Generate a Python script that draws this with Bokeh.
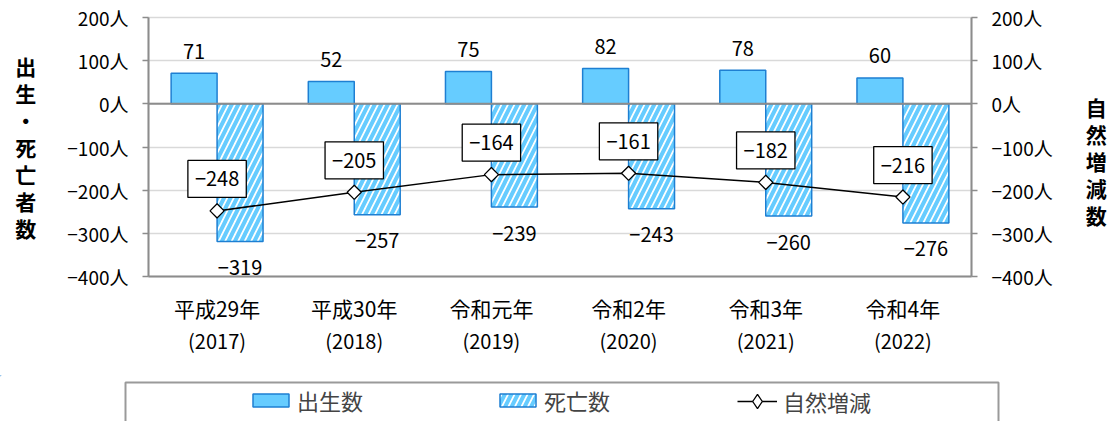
from bokeh.plotting import figure
from bokeh.models import (Range1d, LinearAxis, FixedTicker, ColumnDataSource, Label,
                          Span, Legend, LegendItem)
from bokeh.embed import file_html
from bokeh.resources import INLINE
from bokeh.transform import dodge

# ---------------- data ----------------
era_labels = ["平成29年", "平成30年", "令和元年", "令和2年", "令和3年", "令和4年"]
year_labels = ["(2017)", "(2018)", "(2019)", "(2020)", "(2021)", "(2022)"]
births = [71, 52, 75, 82, 78, 60]
deaths = [-319, -257, -239, -243, -260, -276]
natural = [-248, -205, -164, -161, -182, -216]
y_ticks = [-400, -300, -200, -100, 0, 100, 200]
left_title = "出生・死亡者数"
right_title = "自然増減数"
legend_labels = ["出生数", "死亡数", "自然増減"]

FONT = "Noto Sans CJK JP"
BAR_FILL = "#66CCFF"
BAR_LINE = "#1E7FD2"
AXIS_GRAY = "#8c8c8c"
GRID_GRAY = "#d9d9d9"


def fmt(v):
    return str(v).replace("-", "−")


xs = [i + 0.5 for i in range(len(era_labels))]
src = ColumnDataSource(dict(x=xs, births=births, deaths=deaths, natural=natural))

W = 1109
H_MAIN = 375
H_LEG = 46

p = figure(width=W, height=H_MAIN, output_backend="svg", toolbar_location=None,
           x_range=Range1d(0, len(era_labels)), y_range=Range1d(-400, 200),
           min_border_left=148, min_border_right=136, min_border_top=17,
           min_border_bottom=H_MAIN - 276, tools="")
p.outline_line_color = GRID_GRAY
p.outline_line_width = 1.5
p.background_fill_color = "white"
p.border_fill_color = "white"

# grid
p.xgrid.visible = False
p.ygrid.ticker = FixedTicker(ticks=y_ticks)
p.ygrid.grid_line_color = GRID_GRAY
p.ygrid.grid_line_width = 1.5

# y axes
overrides = {t: fmt(t) + "人" for t in y_ticks}


def style_yaxis(ax):
    ax.ticker = FixedTicker(ticks=y_ticks)
    ax.major_label_overrides = overrides
    ax.major_label_text_font = FONT
    ax.major_label_text_font_size = "19px"
    ax.major_label_text_color = "black"
    ax.major_label_standoff = 14
    ax.major_tick_in = 0
    ax.major_tick_out = 6
    ax.major_tick_line_color = AXIS_GRAY
    ax.major_tick_line_width = 1.5
    ax.minor_tick_line_color = None
    ax.axis_line_color = AXIS_GRAY
    ax.axis_line_width = 2
    ax.axis_label_text_font = FONT
    ax.axis_label_text_font_size = "21px"
    ax.axis_label_text_font_style = "bold"
    ax.axis_label_text_color = "black"
    ax.axis_label_orientation = "horizontal"
    ax.axis_label_text_line_height = 0.9


left_axis = p.yaxis[0]
style_yaxis(left_axis)
left_axis.axis_label = "\n".join(left_title)
left_axis.axis_label_standoff = 28

right_axis = LinearAxis()
style_yaxis(right_axis)
right_axis.axis_label = " \n" + "\n".join(right_title)
right_axis.axis_label_standoff = 30
p.add_layout(right_axis, "right")

# x axes: era row and year row
xa = p.xaxis[0]
xa.ticker = FixedTicker(ticks=xs)
xa.major_label_overrides = {x: e for x, e in zip(xs, era_labels)}
xa.major_tick_line_color = None
xa.major_tick_out = 0
xa.minor_tick_line_color = None
xa.axis_line_color = AXIS_GRAY
xa.axis_line_width = 2
xa.major_label_text_font = FONT
xa.major_label_text_font_size = "21px"
xa.major_label_text_color = "black"
xa.major_label_standoff = 16

xa2 = LinearAxis(ticker=FixedTicker(ticks=xs),
                 major_label_overrides={x: y for x, y in zip(xs, year_labels)})
xa2.major_tick_line_color = None
xa2.major_tick_out = 0
xa2.minor_tick_line_color = None
xa2.axis_line_color = None
xa2.major_label_text_font = FONT
xa2.major_label_text_font_size = "20px"
xa2.major_label_text_color = "black"
xa2.major_label_standoff = 0
p.add_layout(xa2, "below")

# bars
bw = 0.335
bar_kw = dict(line_color=BAR_LINE, line_width=1.5)
r_b = p.vbar(x=dodge("x", -bw / 2), top="births", bottom=0, width=bw, source=src,
             fill_color=BAR_FILL, **bar_kw)
hatch_kw = dict(fill_color="white", hatch_pattern="/", hatch_color=BAR_FILL,
                hatch_scale=13, hatch_weight=4)
r_d = p.vbar(x=dodge("x", bw / 2), top=0, bottom="deaths", width=bw, source=src,
             **hatch_kw, **bar_kw)

p.add_layout(Span(location=0, dimension="width", line_color=AXIS_GRAY, line_width=2))

# natural change line
line_kw = dict(line_color="black", line_width=1.5)
marker_kw = dict(size=10, fill_color="white", line_color="black", line_width=1.3)
p.line(x="x", y="natural", source=src, **line_kw)
p.scatter(x="x", y="natural", source=src, marker="square", angle=0.785398, **marker_kw)

# data labels
for x, b, d, n in zip(xs, births, deaths, natural):
    p.add_layout(Label(x=x - bw / 2, y=b, text=fmt(b), y_offset=22, text_align="center",
                       text_baseline="middle", text_font=FONT, text_font_size="20px",
                       text_color="black"))
    p.add_layout(Label(x=x + bw / 2, y=d, text=fmt(d), y_offset=-26, text_align="center",
                       text_baseline="middle", text_font=FONT, text_font_size="20px",
                       text_color="black"))
    p.add_layout(Label(x=x, y=n, text=fmt(n), y_offset=32, text_align="center",
                       text_baseline="middle", text_font=FONT, text_font_size="20px",
                       text_color="black", background_fill_color="white",
                       border_line_color="black", border_line_width=1.3,
                       padding=dict(top=11, bottom=11, left=7, right=7)))

# ---------------- legend strip (separate root, page-pixel data space) ----------------
lf = figure(width=W, height=H_LEG, output_backend="svg", toolbar_location=None,
            x_range=Range1d(0, W), y_range=Range1d(H_MAIN + H_LEG, H_MAIN),
            x_axis_type=None, y_axis_type=None, tools="",
            min_border_left=0, min_border_right=0, min_border_top=0, min_border_bottom=0)
lf.outline_line_color = None
lf.xgrid.visible = False
lf.ygrid.visible = False
lf.background_fill_color = "white"
lf.border_fill_color = "white"

# legend frame lines
lf.line(x=[125, 125, 998, 998], y=[H_MAIN + H_LEG + 10, 382, 382, H_MAIN + H_LEG + 10],
        line_color="#9a9a9a", line_width=2)

# dummy renderers for the legend glyphs (drawn off-range)
dsrc = ColumnDataSource(dict(x=[-100], t=[-100], b=[-101]))
lb = lf.vbar(x="x", top="t", bottom="b", width=1, source=dsrc, fill_color=BAR_FILL, **bar_kw)
ld = lf.vbar(x="x", top="t", bottom="b", width=1, source=dsrc, **hatch_kw, **bar_kw)
ll = lf.line(x="x", y="t", source=dsrc, **line_kw)
lm = lf.scatter(x="x", y="t", source=dsrc, marker="diamond", **marker_kw)

leg_common = dict(orientation="horizontal", label_text_font=FONT, label_text_font_size="22px",
                  padding=0, border_line_alpha=0, background_fill_alpha=0, label_height=26)
legend1 = Legend(items=[LegendItem(label=legend_labels[0], renderers=[lb]),
                        LegendItem(label=legend_labels[1], renderers=[ld])],
                 location=(248, 5), spacing=132, glyph_width=45, glyph_height=16,
                 label_standoff=4, **leg_common)
legend2 = Legend(items=[LegendItem(label=legend_labels[2], renderers=[ll, lm])],
                 location=(737, 2), glyph_width=40, glyph_height=36,
                 label_standoff=6, **leg_common)
lf.add_layout(legend1, "center")
lf.add_layout(legend2, "center")

open("out.html", "w").write(file_html([p, lf], INLINE))
